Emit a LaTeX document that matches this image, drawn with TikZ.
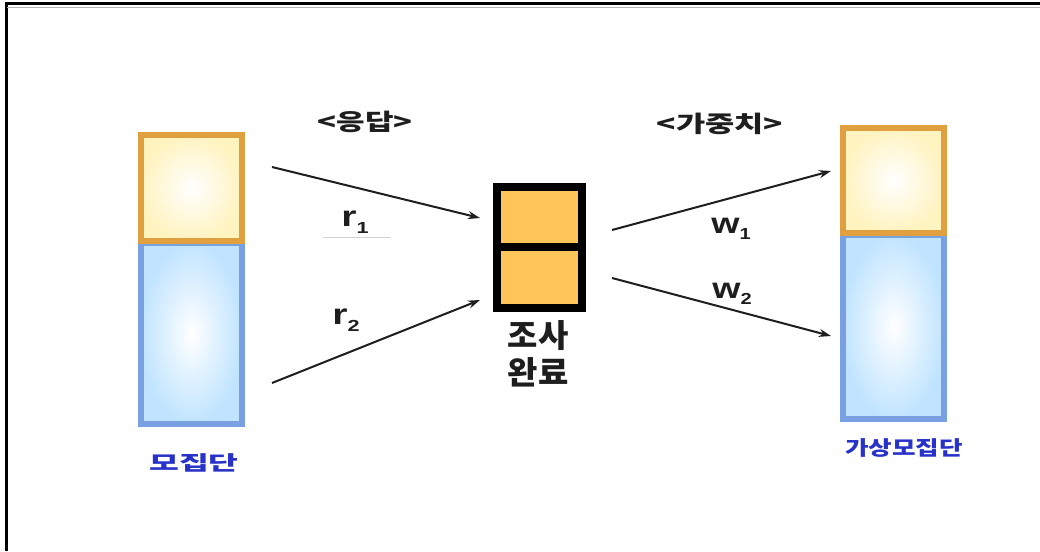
\documentclass[tikz,border=0pt]{standalone}
\usepackage{fontspec}
\usepackage{graphicx}
\setmainfont{Liberation Sans}
\newfontfamily\kr{Noto Sans CJK KR}
\usetikzlibrary{arrows.meta}
\definecolor{oedge}{RGB}{224,160,64}
\definecolor{bedge}{RGB}{122,160,228}
\definecolor{ofill}{RGB}{255,243,192}
\definecolor{bfill}{RGB}{192,228,255}
\definecolor{mfill}{RGB}{255,196,90}
\definecolor{bluetxt}{RGB}{40,50,200}
\definecolor{darktxt}{RGB}{30,30,30}
\newcommand{\sx}[2]{\scalebox{#1}[1]{#2}}
\begin{document}
\begin{tikzpicture}[x=1pt,y=-1pt,
  obox/.style={draw=oedge,line width=6pt,inner color=white,outer color=ofill,minimum width=101pt,inner sep=0pt},
  bbox/.style={draw=bedge,line width=6pt,inner color=white,outer color=bfill,minimum width=101pt,inner sep=0pt},
  mbox/.style={draw=black,line width=7.5pt,fill=mfill,minimum width=85pt,inner sep=0pt},
  arr/.style={draw=darktxt,line width=2pt,-{Stealth[length=12pt,width=8pt]}},
  krlbl/.style={font=\kr\bfseries\fontsize{20}{20}\selectfont,text=bluetxt,inner sep=0pt},
  hdr/.style={font=\kr\bfseries\fontsize{23}{23}\selectfont,text=darktxt,inner sep=0pt},
  mid/.style={font=\kr\bfseries\fontsize{32}{32}\selectfont,text=darktxt,inner sep=0pt},
  var/.style={font=\bfseries\fontsize{29}{29}\selectfont,text=darktxt,inner sep=0pt}
]
\useasboundingbox (0,0) rectangle (1040,551);
\fill[white] (0,0) rectangle (1040,551);
% frame
\coordinate (fbl) at (6,551);
\coordinate (ftl) at (6,4);
\coordinate (ftr) at (1040,4);
\draw[line width=3pt] (fbl) -- (ftl) -- (ftr);
\draw[gray!60,line width=1pt] (7,7.5) -- (1040,7.5);

% left population
\node[bbox,minimum height=181pt] (lb) at (191.5,333.5) {};
\node[obox,minimum height=106pt] (lo) at (191.5,188) {};
\node[krlbl] (lt) at (194,463) {\sx{1.62}{모집단}};

% middle
\node[mbox,minimum height=60pt] (mt) at (539.5,217) {};
\node[mbox,minimum height=61pt] (mb) at (539.5,277.5) {};
\node[mid] (m1) at (538,336) {\sx{1.03}{조사}};
\node[mid] (m2) at (538,372) {\sx{1.03}{완료}};

% right population
\node[bbox,minimum height=184pt] (rb) at (893.5,327) {};
\node[obox,minimum height=105pt] (ro) at (893.5,180.5) {};
\node[krlbl] (rt) at (904,448) {\sx{1.28}{가상모집단}};

% headers
\node[hdr] (h1) at (365,122) {\sx{1.35}{<응답>}};
\node[hdr] (h2) at (720,124) {\sx{1.38}{<가중치>}};

% arrows
\coordinate (r1s) at (272,167);
\coordinate (r1e) at (480,218);
\coordinate (r2s) at (272,383);
\coordinate (r2e) at (480,300);
\coordinate (w1s) at (612,230);
\coordinate (w1e) at (831,171);
\coordinate (w2s) at (612,278);
\coordinate (w2e) at (831,336);
\draw[arr] (r1s) -- (r1e);
\draw[arr] (r2s) -- (r2e);
\draw[arr] (w1s) -- (w1e);
\draw[arr] (w2s) -- (w2e);

% weight labels
\node[var] (lr1) at (355,222) {\sx{1.35}{r\raisebox{-0.22em}{\fontsize{16}{16}\selectfont 1}}};
\coordinate (ul1) at (323,237);
\coordinate (ul2) at (390,237);
\draw[gray!35,line width=0.8pt] (ul1) -- (ul2);
\node[var] (lr2) at (346,320) {\sx{1.35}{r\raisebox{-0.22em}{\fontsize{16}{16}\selectfont 2}}};
\node[var] (lw1) at (731,229) {\sx{1.25}{w\raisebox{-0.22em}{\fontsize{16}{16}\selectfont 1}}};
\node[var] (lw2) at (732,294) {\sx{1.25}{w\raisebox{-0.22em}{\fontsize{16}{16}\selectfont 2}}};
\end{tikzpicture}
\end{document}
